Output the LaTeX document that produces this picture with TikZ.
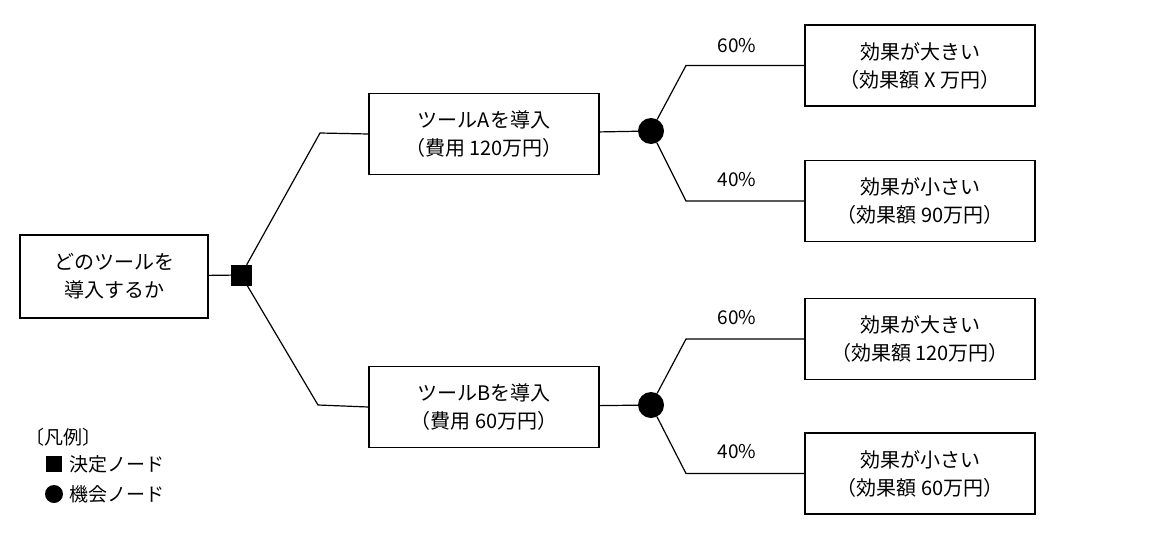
\documentclass[tikz,border=0pt]{standalone}
\usepackage{fontspec}
\setmainfont{Noto Sans CJK JP}
\begin{document}
\begin{tikzpicture}[x=1pt,y=-1pt,
 box/.style={draw,line width=1.2pt,minimum width=230pt,minimum height=81pt,align=center,font=\fontsize{20}{28}\selectfont},
 ln/.style={line width=1.2pt},
 lab/.style={font=\fontsize{19}{22}\selectfont}]
\useasboundingbox (0,0) rectangle (1152,536);
\node[box,minimum width=188pt,minimum height=83pt] (root) at (114,276.5) {どのツールを\\導入するか};
\node[draw,fill=black,minimum size=20pt,inner sep=0] (d) at (241,275) {};
\node[box] (a) at (484,134) {ツールAを導入\\（費用 120万円）};
\node[box] (b) at (484,407) {ツールBを導入\\（費用 60万円）};
\node[circle,fill=black,minimum size=26pt,inner sep=0] (ca) at (651,131) {};
\node[circle,fill=black,minimum size=26pt,inner sep=0] (cb) at (651,405) {};
\node[box] (a1) at (920,65.5) {効果が大きい\\（効果額 X 万円）};
\node[box] (a2) at (920,201) {効果が小さい\\（効果額 90万円）};
\node[box] (b1) at (920,339) {効果が大きい\\（効果額 120万円）};
\node[box] (b2) at (920,473.5) {効果が小さい\\（効果額 60万円）};
\coordinate (pa) at (320,133); \coordinate (pb) at (318,405);
\coordinate (qa1) at (686,65.5); \coordinate (qa2) at (686,201);
\coordinate (qb1) at (686,339); \coordinate (qb2) at (686,473.5);
\draw[ln] (root) -- (d);
\draw[ln] (d) -- (pa) -- (a.west);
\draw[ln] (d) -- (pb) -- (b.west);
\draw[ln] (a) -- (ca); \draw[ln] (b) -- (cb);
\draw[ln] (ca) -- (qa1) -- (a1.west);
\draw[ln] (ca) -- (qa2) -- (a2.west);
\draw[ln] (cb) -- (qb1) -- (b1.west);
\draw[ln] (cb) -- (qb2) -- (b2.west);
\node[lab] (l1) at (737,46) {60\%};
\node[lab] (l2) at (737,180) {40\%};
\node[lab] (l3) at (737,318) {60\%};
\node[lab] (l4) at (737,452) {40\%};
\node[lab,anchor=west] (g0) at (22,437) {〔凡例〕};
\node[draw,fill=black,minimum size=15pt,inner sep=0] (gs) at (54,464) {};
\node[lab,anchor=west] (g1) at (66,464) {決定ノード};
\node[circle,fill=black,minimum size=18pt,inner sep=0] (gc) at (54,494) {};
\node[lab,anchor=west] (g2) at (66,494) {機会ノード};
\end{tikzpicture}
\end{document}
